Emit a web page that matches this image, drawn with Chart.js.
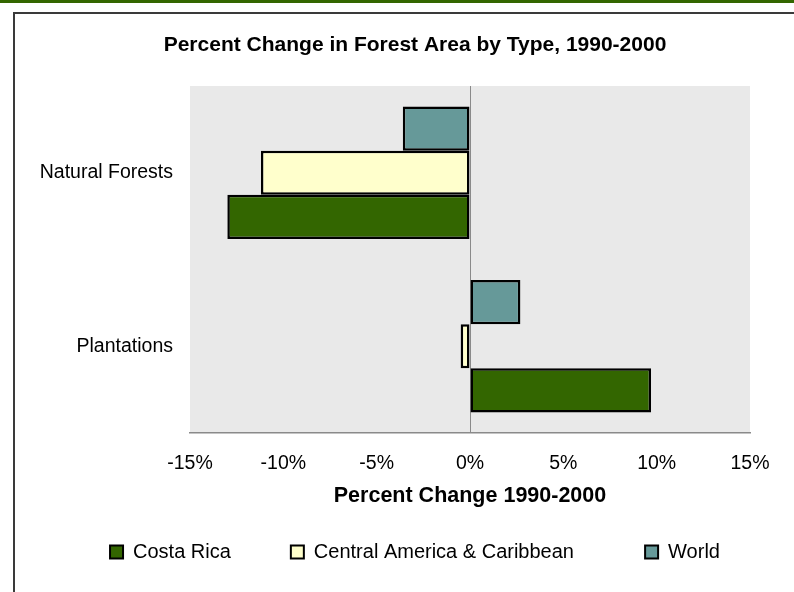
<!DOCTYPE html>
<html>
<head>
<meta charset="utf-8">
<script src="https://cdn.jsdelivr.net/npm/chart.js@4/dist/chart.umd.min.js"></script>
<style>
  html, body { margin: 0; padding: 0; background: #ffffff; overflow: hidden; width: 794px; height: 592px; }
  #topbar { position: absolute; left: 0; top: 0; width: 794px; height: 3px; background: #336600; }
  #frame { position: absolute; left: 13px; top: 12px; width: 900px; height: 700px; border-left: 2px solid #3a3a3a; border-top: 2px solid #3a3a3a; }
  #wrap { position: absolute; left: 0; top: 0; width: 794px; height: 592px; overflow: hidden; }
</style>
</head>
<body>
<div id="topbar"></div>
<div id="frame"></div>
<div id="wrap"><canvas id="c" width="830" height="592"></canvas></div>
<script>
const categories = ['Natural Forests', 'Plantations'];
const costaRica = [-13.0, 9.7];
const centralAmerica = [-11.2, -0.5];
const world = [-3.6, 2.7];
const xTickValues = [-15, -10, -5, 0, 5, 10, 15];
const seriesNames = ['Costa Rica', 'Central America & Caribbean', 'World'];

const FONT = "'Liberation Sans', Arial, Helvetica, sans-serif";
Chart.defaults.font.family = FONT;
Chart.defaults.color = '#000000';

const plotBg = {
  id: 'plotBg',
  beforeDraw(chart) {
    const {ctx, chartArea: a} = chart;
    ctx.save();
    ctx.fillStyle = '#e9e9e9';
    ctx.fillRect(a.left, a.top, a.right - a.left, a.bottom - a.top);
    ctx.restore();
  }
};

new Chart(document.getElementById('c'), {
  type: 'bar',
  data: {
    labels: categories,
    datasets: [
      { label: seriesNames[2], data: world, backgroundColor: '#669999' },
      { label: seriesNames[1], data: centralAmerica, backgroundColor: '#ffffcc' },
      { label: seriesNames[0], data: costaRica, backgroundColor: '#336600' }
    ]
  },
  options: {
    indexAxis: 'y',
    responsive: false,
    animation: false,
    devicePixelRatio: 1,
    layout: { padding: { left: 0, right: 0, top: 0, bottom: 20 } },
    datasets: {
      bar: {
        borderColor: '#000000',
        borderWidth: 2.5,
        borderSkipped: false,
        categoryPercentage: 0.763,
        barPercentage: 1.0
      }
    },
    scales: {
      x: {
        min: -15, max: 15,
        afterBuildTicks(s) { s.ticks = xTickValues.map(v => ({ value: v })); },
        afterFit(s) { s.height = 99; s.paddingRight = 80; s.paddingLeft = 0; },
        ticks: {
          callback: v => v + '%',
          font: { size: 19.5 },
          color: '#000',
          padding: 19,
          maxRotation: 0,
          autoSkip: false
        },
        grid: {
          drawTicks: false,
          color: ctx => (ctx.tick && ctx.tick.value === 0) ? '#8a8a8a' : 'rgba(0,0,0,0)',
          lineWidth: 1
        },
        border: { display: true, color: '#8a8a8a', width: 1.5 },
        title: {
          display: true,
          text: 'Percent Change 1990-2000',
          font: { size: 21.5, weight: 'bold' },
          color: '#000',
          padding: { top: 0, bottom: 23 }
        }
      },
      y: {
        afterFit(s) { s.width = 190; },
        ticks: { font: { size: 19.5 }, color: '#000', padding: 17 },
        grid: { display: false, drawTicks: false },
        border: { display: false }
      }
    },
    plugins: {
      title: {
        display: true,
        text: 'Percent Change in Forest Area by Type, 1990-2000',
        font: { size: 21, weight: 'bold' },
        color: '#000',
        padding: { top: 32.4, bottom: 28.4 }
      },
      legend: {
        position: 'bottom',
        labels: {
          font: { size: 20 },
          color: '#000',
          boxWidth: 13,
          boxHeight: 13,
          padding: 10,
          generateLabels(chart) {
            const items = Chart.defaults.plugins.legend.labels.generateLabels(chart).reverse();
            items.forEach((it, i) => {
              it.strokeStyle = '#000000';
              it.lineWidth = 2;
              if (i < items.length - 1) it.text = it.text + '\u00a0'.repeat(i === 0 ? 9 : 11);
            });
            return items;
          }
        }
      },
      tooltip: { enabled: false }
    }
  },
  plugins: [plotBg]
});
</script>
</body>
</html>
